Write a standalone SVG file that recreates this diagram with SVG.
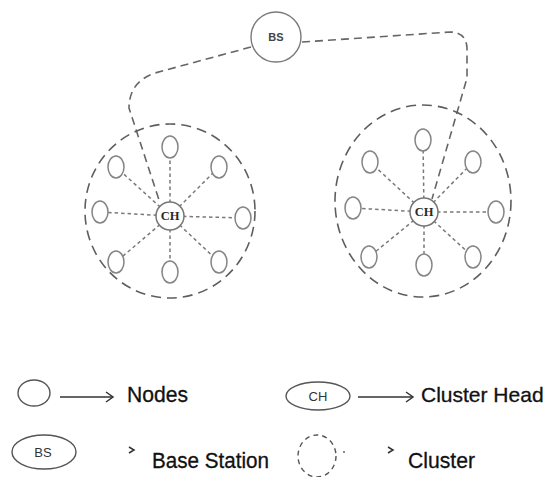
<svg xmlns="http://www.w3.org/2000/svg" width="551" height="477" viewBox="0 0 551 477">
<style>
.bg{fill:#ffffff}
.link{fill:none;stroke:#666666;stroke-width:1.6;stroke-dasharray:8 5}
.spoke{fill:none;stroke:#7a7a7a;stroke-width:1.5;stroke-dasharray:3.5 3}
.cluster{fill:none;stroke:#5e5e5e;stroke-width:1.6;stroke-dasharray:10 6}
.node{fill:#ffffff;stroke:#858585;stroke-width:1.5}
.ch{fill:#ffffff;stroke:#777777;stroke-width:1.5}
.bs{fill:#ffffff;stroke:#7a7a7a;stroke-width:1.4}
.chtxt{font-family:"Liberation Serif",serif;font-weight:bold;font-size:12.5px;fill:#2a2a2a;text-anchor:middle}
.bstxt{font-family:"Liberation Sans",sans-serif;font-weight:bold;font-size:11px;fill:#444444;text-anchor:middle}
.lg{font-family:"Liberation Sans",sans-serif;font-size:22px;fill:#111111;stroke:#111111;stroke-width:0.3}
.lgs{font-family:"Liberation Sans",sans-serif;font-size:13px;fill:#333333;text-anchor:middle}
.lgshape{fill:none;stroke:#555555;stroke-width:1.4}
.arr{fill:none;stroke:#333333;stroke-width:1.5}
</style>
<rect class="bg" width="551" height="477"/>

<g id="connectors">
  <path class="link" d="M251,47 L155,73 Q129,82 129,108 L160,203"/>
  <path class="link" d="M302,42 L450,32 Q466,32 467,48 L467,78 L432,199"/>
  <g id="spokes-left">
    <line class="spoke" x1="170" y1="216" x2="170" y2="147"/>
    <line class="spoke" x1="170" y1="216" x2="116" y2="167"/>
    <line class="spoke" x1="170" y1="216" x2="219" y2="167"/>
    <line class="spoke" x1="170" y1="216" x2="100" y2="212"/>
    <line class="spoke" x1="170" y1="216" x2="243" y2="218"/>
    <line class="spoke" x1="170" y1="216" x2="116" y2="262"/>
    <line class="spoke" x1="170" y1="216" x2="170" y2="272"/>
    <line class="spoke" x1="170" y1="216" x2="219" y2="262"/>
  </g>
  <g id="spokes-right">
    <line class="spoke" x1="424" y1="212" x2="423" y2="140"/>
    <line class="spoke" x1="424" y1="212" x2="370" y2="162"/>
    <line class="spoke" x1="424" y1="212" x2="473" y2="162"/>
    <line class="spoke" x1="424" y1="212" x2="353" y2="208"/>
    <line class="spoke" x1="424" y1="212" x2="496" y2="212"/>
    <line class="spoke" x1="424" y1="212" x2="369" y2="257"/>
    <line class="spoke" x1="424" y1="212" x2="424" y2="265"/>
    <line class="spoke" x1="424" y1="212" x2="473" y2="257"/>
  </g>
</g>

<g id="cluster-left"><ellipse class="cluster" cx="170" cy="211" rx="85" ry="87"/></g>
<g id="cluster-right"><ellipse class="cluster" cx="423" cy="201" rx="88" ry="96"/></g>

<g id="bs"><circle class="bs" cx="276" cy="37" r="25"/><text class="bstxt" x="276" y="41">BS</text></g>

<g id="nodes-left">
  <ellipse id="l1" class="node" cx="170" cy="147" rx="8" ry="11"/>
  <ellipse id="l2" class="node" cx="116" cy="167" rx="8" ry="11"/>
  <ellipse id="l3" class="node" cx="219" cy="167" rx="8" ry="11"/>
  <ellipse id="l4" class="node" cx="100" cy="212" rx="8" ry="11"/>
  <ellipse id="l5" class="node" cx="243" cy="218" rx="8" ry="11"/>
  <ellipse id="l6" class="node" cx="116" cy="262" rx="8" ry="11"/>
  <ellipse id="l7" class="node" cx="170" cy="272" rx="8" ry="11"/>
  <ellipse id="l8" class="node" cx="219" cy="262" rx="8" ry="11"/>
</g>
<g id="ch-left"><circle class="ch" cx="170" cy="216" r="14"/><text class="chtxt" x="170" y="220">CH</text></g>

<g id="nodes-right">
  <ellipse id="r1" class="node" cx="423" cy="140" rx="8" ry="11"/>
  <ellipse id="r2" class="node" cx="370" cy="162" rx="8" ry="11"/>
  <ellipse id="r3" class="node" cx="473" cy="162" rx="8" ry="11"/>
  <ellipse id="r4" class="node" cx="353" cy="208" rx="8" ry="11"/>
  <ellipse id="r5" class="node" cx="496" cy="212" rx="8" ry="11"/>
  <ellipse id="r6" class="node" cx="369" cy="257" rx="8" ry="11"/>
  <ellipse id="r7" class="node" cx="424" cy="265" rx="8" ry="11"/>
  <ellipse id="r8" class="node" cx="473" cy="257" rx="8" ry="11"/>
</g>
<g id="ch-right"><circle class="ch" cx="424" cy="212" r="14"/><text class="chtxt" x="424" y="216">CH</text></g>

<g id="legend">
  <g id="lg-nodes">
    <ellipse class="lgshape" cx="34" cy="393" rx="16" ry="13"/>
    <line class="arr" x1="60" y1="397" x2="112" y2="397"/>
    <path class="arr" d="M106,392 L113,397 L106,402"/>
    <text class="lg" x="127" y="402" textLength="61" lengthAdjust="spacingAndGlyphs">Nodes</text>
  </g>
  <g id="lg-ch">
    <ellipse class="lgshape" cx="318" cy="396" rx="32" ry="14"/>
    <text class="lgs" x="318" y="401">CH</text>
    <line class="arr" x1="358" y1="397" x2="412" y2="397"/>
    <path class="arr" d="M406,392 L413,397 L406,402"/>
    <text class="lg" x="421" y="402" style="font-size:21px">Cluster Head</text>
  </g>
  <g id="lg-bs">
    <ellipse class="lgshape" cx="44" cy="452" rx="32" ry="17"/>
    <text class="lgs" x="43" y="457">BS</text>
    <path class="arr" d="M129,447 L134,450 L129,453"/>
    <text class="lg" x="152" y="468" textLength="117" lengthAdjust="spacingAndGlyphs">Base Station</text>
  </g>
  <g id="lg-cluster">
    <ellipse class="lgshape" cx="317" cy="456" rx="19" ry="21" stroke-dasharray="5 4"/>
    <circle cx="344" cy="452" r="0.9" fill="#555555"/>
    <path class="arr" d="M388,447 L393,450 L388,453"/>
    <text class="lg" x="408" y="468" textLength="67" lengthAdjust="spacingAndGlyphs">Cluster</text>
  </g>
</g>
</svg>
